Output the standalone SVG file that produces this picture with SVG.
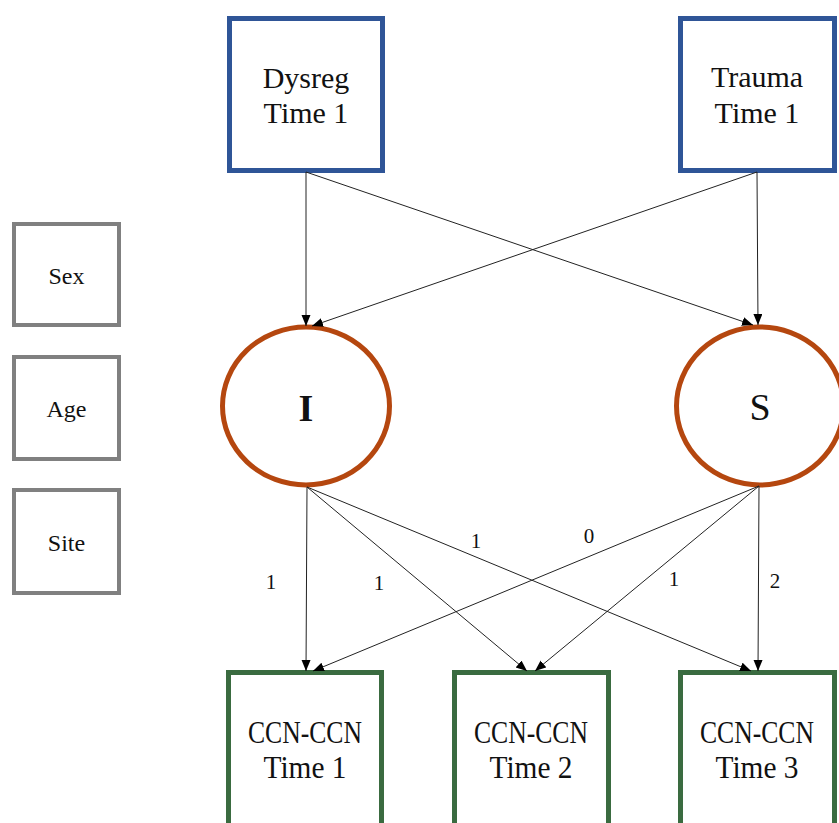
<svg xmlns="http://www.w3.org/2000/svg" width="839" height="823" viewBox="0 0 839 823">
<style>
  .t { font-family: "Liberation Serif", "Times New Roman", serif; fill: #111; text-anchor: middle; }
  .big { font-size: 30px; }
  .bot { font-size: 31px; }
  .cov { font-size: 24px; }
  .lat { font-size: 38px; }
  .lbl { font-size: 21px; }
  .blue { fill: #fff; stroke: #2F5597; stroke-width: 5; }
  .gray { fill: #fff; stroke: #808080; stroke-width: 4; }
  .green { fill: #fff; stroke: #3A6B40; stroke-width: 5; }
  .lv { fill: #fff; stroke: #B5470F; stroke-width: 5; }
  .edge { stroke: #222; stroke-width: 1; fill: none; marker-end: url(#ah); }
</style>
<defs>
  <marker id="ah" markerUnits="userSpaceOnUse" markerWidth="12" markerHeight="10" refX="11" refY="4.5" orient="auto">
    <path d="M0,0 L11,4.5 L0,9 z" fill="#000"/>
  </marker>
</defs>
<rect width="839" height="823" fill="#fff"/>

<g id="dysreg">
  <rect class="blue" x="229.5" y="18.5" width="153" height="152"/>
  <text class="t big" x="306" y="88">Dysreg</text>
  <text class="t big" x="306" y="123">Time 1</text>
</g>
<g id="trauma">
  <rect class="blue" x="680.5" y="18.5" width="154" height="152"/>
  <text class="t big" x="757" y="87">Trauma</text>
  <text class="t big" x="757" y="123">Time 1</text>
</g>

<g id="sex">
  <rect class="gray" x="14" y="224" width="105" height="101"/>
  <text class="t cov" x="66.5" y="284">Sex</text>
</g>
<g id="age">
  <rect class="gray" x="14" y="357" width="105" height="102"/>
  <text class="t cov" x="66.5" y="417">Age</text>
</g>
<g id="site">
  <rect class="gray" x="14" y="490" width="105" height="103"/>
  <text class="t cov" x="66.5" y="551">Site</text>
</g>

<g id="I">
  <ellipse class="lv" cx="306" cy="406" rx="83.5" ry="79"/>
  <text class="t lat" x="306" y="421" font-weight="bold">I</text>
</g>
<g id="S">
  <ellipse class="lv" cx="760" cy="406" rx="83.5" ry="79"/>
  <text class="t lat" x="760" y="420">S</text>
</g>

<g id="ccn1">
  <rect class="green" x="228.5" y="672.5" width="153" height="160"/>
  <text class="t bot" x="305" y="743" textLength="114" lengthAdjust="spacingAndGlyphs">CCN-CCN</text>
  <text class="t bot" x="305" y="778" textLength="83" lengthAdjust="spacingAndGlyphs">Time 1</text>
</g>
<g id="ccn2">
  <rect class="green" x="454.5" y="672.5" width="154" height="160"/>
  <text class="t bot" x="531" y="743" textLength="114" lengthAdjust="spacingAndGlyphs">CCN-CCN</text>
  <text class="t bot" x="531" y="778" textLength="83" lengthAdjust="spacingAndGlyphs">Time 2</text>
</g>
<g id="ccn3">
  <rect class="green" x="680.5" y="672.5" width="154" height="160"/>
  <text class="t bot" x="757" y="743" textLength="114" lengthAdjust="spacingAndGlyphs">CCN-CCN</text>
  <text class="t bot" x="757" y="778" textLength="83" lengthAdjust="spacingAndGlyphs">Time 3</text>
</g>

<g id="connectors">
  <line class="edge" x1="306" y1="172" x2="306" y2="326"/>
  <line class="edge" x1="306" y1="172" x2="753" y2="325"/>
  <line class="edge" x1="757" y1="172" x2="312" y2="326"/>
  <line class="edge" x1="757" y1="172" x2="758" y2="325"/>
  <line class="edge" x1="307" y1="487" x2="306" y2="671"/>
  <line class="edge" x1="307" y1="487" x2="527" y2="671"/>
  <line class="edge" x1="307" y1="487" x2="751" y2="671"/>
  <line class="edge" x1="759" y1="486" x2="313" y2="671"/>
  <line class="edge" x1="759" y1="486" x2="535" y2="671"/>
  <line class="edge" x1="759" y1="486" x2="758" y2="671"/>
</g>
<g id="labels">
  <text class="t lbl" x="271" y="589">1</text>
  <text class="t lbl" x="379" y="590">1</text>
  <text class="t lbl" x="476" y="548">1</text>
  <text class="t lbl" x="589" y="543">0</text>
  <text class="t lbl" x="674" y="586">1</text>
  <text class="t lbl" x="775" y="588">2</text>
</g>
</svg>
